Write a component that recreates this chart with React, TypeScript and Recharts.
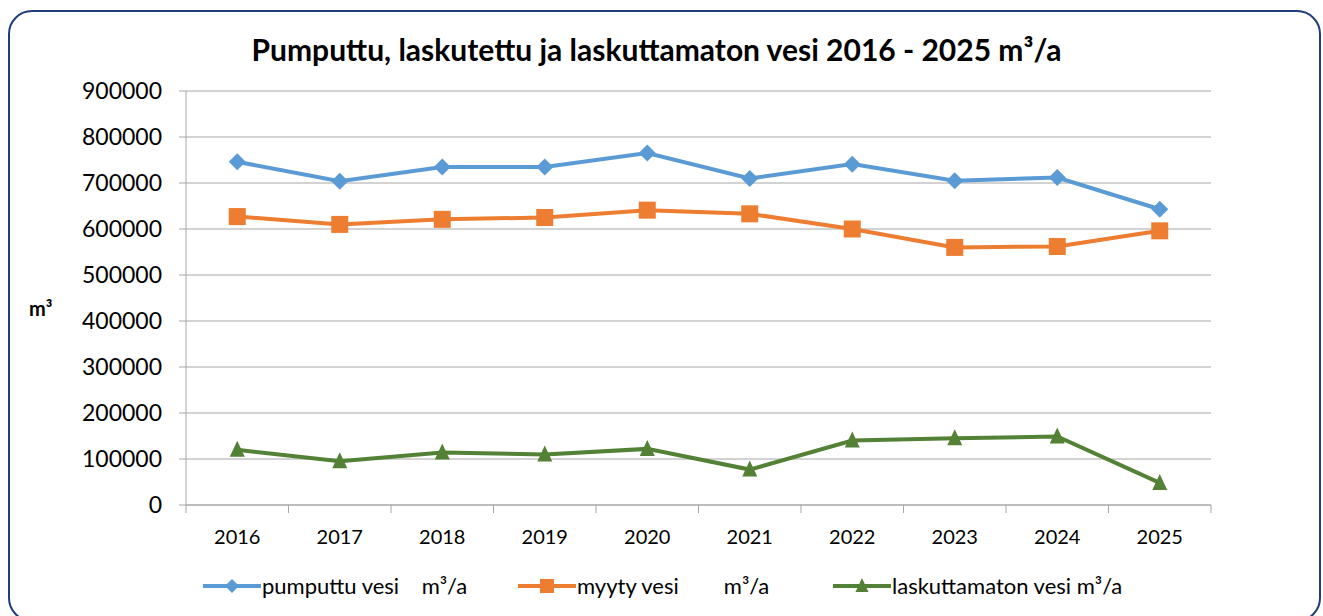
import React from 'react'
import { LineChart, Line, XAxis, YAxis, CartesianGrid } from 'recharts'

const years = ['2016', '2017', '2018', '2019', '2020', '2021', '2022', '2023', '2024', '2025']
const pumputtu = [746000, 704000, 735000, 735000, 765000, 710000, 741000, 705000, 712000, 643000]
const myyty = [627000, 610000, 621000, 625000, 641000, 633000, 600000, 560000, 562000, 596000]
const laskuttamaton = [120000, 95000, 114000, 110000, 122000, 77000, 140000, 145000, 149000, 48000]
const yTicks = [0, 100000, 200000, 300000, 400000, 500000, 600000, 700000, 800000, 900000]

const data = years.map((year, i) => ({
  year,
  pumputtu: pumputtu[i],
  myyty: myyty[i],
  laskuttamaton: laskuttamaton[i],
}))

const BLUE = '#5b9bd5'
const ORANGE = '#ed7d31'
const GREEN = '#538135'
const GRID = '#a6a6a6'
const FONT = 'Lato, "Open Sans", sans-serif'

const PLOT_W = 1025
const BAND = PLOT_W / years.length

const Diamond = (props: any) => {
  const { cx, cy } = props
  if (cx == null || cy == null) return null
  const r = 8.5
  return <polygon points={`${cx},${cy - r} ${cx + r},${cy} ${cx},${cy + r} ${cx - r},${cy}`} fill={BLUE} />
}

const Square = (props: any) => {
  const { cx, cy } = props
  if (cx == null || cy == null) return null
  const s = 17
  return <rect x={cx - s / 2} y={cy - s / 2} width={s} height={s} fill={ORANGE} />
}

const Triangle = (props: any) => {
  const { cx, cy } = props
  if (cx == null || cy == null) return null
  return <polygon points={`${cx},${cy - 9} ${cx + 7.5},${cy + 7} ${cx - 7.5},${cy + 7}`} fill={GREEN} />
}

const YearTick = (props: any) => {
  const { x, y, payload, index } = props
  const last = index === years.length - 1
  return (
    <g>
      <line x1={x - BAND / 2} y1={y} x2={x - BAND / 2} y2={y + 8} stroke={GRID} />
      {last && <line x1={x + BAND / 2} y1={y} x2={x + BAND / 2} y2={y + 8} stroke={GRID} />}
      <text x={x} y={y + 39} textAnchor="middle" fill="#000" fontSize={20} fontFamily={FONT}>
        {payload.value}
      </text>
    </g>
  )
}

const legendItems = [
  { label: 'pumputtu vesi    m³/a', color: BLUE, shape: 'diamond' },
  { label: 'myyty vesi        m³/a', color: ORANGE, shape: 'square' },
  { label: 'laskuttamaton vesi m³/a', color: GREEN, shape: 'triangle' },
]

function LegendIcon({ color, shape }: { color: string; shape: string }) {
  return (
    <svg width={58} height={20} style={{ marginRight: 1 }}>
      <line x1={0} y1={10} x2={58} y2={10} stroke={color} strokeWidth={4} />
      {shape === 'diamond' && <polygon points="29,3 36,10 29,17 22,10" fill={color} />}
      {shape === 'square' && <rect x={22} y={3} width={14} height={14} fill={color} />}
      {shape === 'triangle' && <polygon points="29,2 35.5,16 22.5,16" fill={color} />}
    </svg>
  )
}

export default function App() {
  return (
    <div style={{ position: 'absolute', left: 0, top: 0, width: 1323, height: 616, background: '#fff', overflow: 'hidden', fontFamily: FONT }}>
      <div
        style={{
          position: 'absolute',
          left: 8,
          top: 10,
          width: 1313,
          height: 612,
          border: '2px solid #1f3d7a',
          borderRadius: 24,
          boxSizing: 'border-box',
        }}
      />
      <div
        style={{
          position: 'absolute',
          left: 0,
          width: 1323,
          top: 31,
          textAlign: 'center',
          fontSize: 30,
          fontWeight: 700,
          color: '#000',
        }}
      >
        <span style={{ position: 'relative', left: -5 }}>Pumputtu, laskutettu ja laskuttamaton vesi 2016 - 2025 m³/a</span>
      </div>
      <div style={{ position: 'absolute', left: 29, top: 296, fontSize: 20, fontWeight: 700 }}>m³</div>
      <div style={{ position: 'absolute', left: 0, top: 0 }}>
        <LineChart width={1323} height={616} data={data} margin={{ top: 91, right: 112, left: 80, bottom: 71 }}>
          <CartesianGrid vertical={false} stroke={GRID} strokeWidth={1} />
          <XAxis
            dataKey="year"
            height={40}
            tickSize={0}
            tickMargin={0}
            tickLine={false}
            padding={{ left: BAND / 2, right: BAND / 2 }}
            axisLine={{ stroke: GRID }}
            tick={(p: any) => <YearTick {...p} />}
            interval={0}
          />
          <YAxis
            width={106}
            domain={[0, 900000]}
            ticks={yTicks}
            tickSize={7}
            tickMargin={17}
            axisLine={{ stroke: GRID }}
            tickLine={{ stroke: GRID }}
            tick={{ fill: '#000', fontSize: 23, fontFamily: FONT }}
            tickFormatter={(v: number) => String(v)}
          />
          <Line dataKey="pumputtu" stroke={BLUE} strokeWidth={4} dot={<Diamond />} isAnimationActive={false} />
          <Line dataKey="myyty" stroke={ORANGE} strokeWidth={4} dot={<Square />} isAnimationActive={false} />
          <Line dataKey="laskuttamaton" stroke={GREEN} strokeWidth={4} dot={<Triangle />} isAnimationActive={false} />
        </LineChart>
      </div>
      <div style={{ position: 'absolute', left: 203, top: 572, display: 'flex', fontSize: 22 }}>
        {legendItems.map((it) => (
          <div key={it.label} style={{ width: 315, display: 'flex', alignItems: 'center' }}>
            <LegendIcon color={it.color} shape={it.shape} />
            <span style={{ whiteSpace: 'pre' }}>{it.label}</span>
          </div>
        ))}
      </div>
    </div>
  )
}
